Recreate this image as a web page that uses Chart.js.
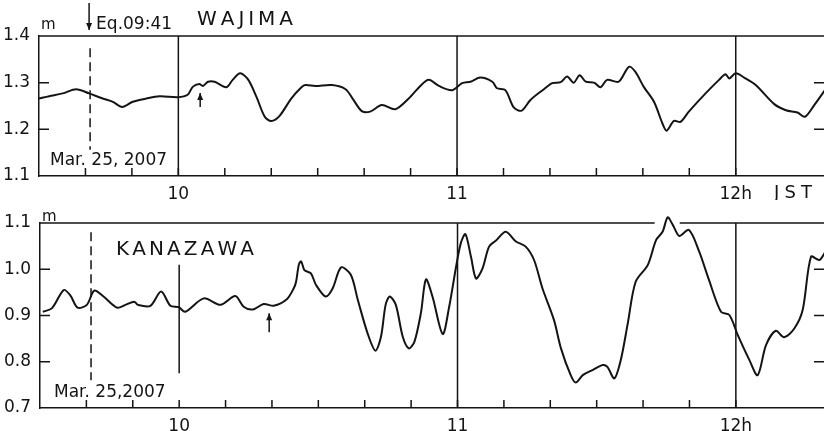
<!DOCTYPE html>
<html lang="en">
<head>
  <meta charset="UTF-8">
  <title>Wajima / Kanazawa tide records</title>
  <script src="https://cdn.jsdelivr.net/npm/chart.js"></script>
  <style>
    body {
      margin: 0;
      background: #fff;
    }
    canvas {
      display: block;
    }
  </style>
</head>
<body>
  <canvas id="wajimaChart" width="824" height="200"></canvas>
  <canvas id="kanazawaChart" width="824" height="231"></canvas>

<script>
    // minutes after 09:30 JST, sea level in m
    const wajimaMin = [0, 2.2, 5.1, 8, 10.8, 13.7, 15.9, 17.9, 20.2, 23.1, 25.9, 29.9, 32, 33.1, 34.5, 35.3, 36.4, 37.8, 40.3, 41.7,
      43.3, 45, 46.8, 48.6, 50, 51.8, 54.3, 56.5, 57.3, 59.5, 63.1, 66, 67.7, 69.5, 71.3, 73.8, 76.7, 79.6, 82.1, 83.9,
      86.1, 88.9, 91.1, 92.9, 95, 97.6, 98.6, 100.4, 102.2, 103.9, 105.8, 108.7, 110.5, 112.3, 113.7, 115.1, 116.4, 117.7, 119.5, 120.9,
      122.3, 124.8, 127, 128.4, 130.2, 132.4, 134.2, 135.1, 136.7, 138.1, 139.9, 143.5, 146.4, 147.8, 148.6, 150, 151.8, 154.3, 158.3, 160.8,
      163.3, 164.9, 166.9, 169.2];
    const wajimaLevel = [1.266, 1.271, 1.277, 1.286, 1.277, 1.266, 1.259, 1.248, 1.259, 1.266, 1.271, 1.269, 1.274, 1.291, 1.297, 1.293, 1.302, 1.302, 1.290, 1.306,
      1.320, 1.307, 1.270, 1.227, 1.218, 1.229, 1.266, 1.290, 1.295, 1.293, 1.295, 1.286, 1.263, 1.239, 1.238, 1.252, 1.243, 1.266, 1.293, 1.306,
      1.293, 1.284, 1.299, 1.302, 1.311, 1.302, 1.288, 1.284, 1.247, 1.240, 1.263, 1.286, 1.299, 1.301, 1.313, 1.300, 1.316, 1.302, 1.300, 1.290,
      1.306, 1.302, 1.334, 1.323, 1.291, 1.259, 1.213, 1.197, 1.218, 1.216, 1.238, 1.277, 1.306, 1.318, 1.309, 1.320, 1.311, 1.295, 1.254, 1.241,
      1.236, 1.227, 1.252, 1.284];

    const kanazawaMin = [0.6, 2.6, 5.1, 6.5, 8.1, 10.1, 11.7, 13.7, 16.6, 18.4, 20.3, 21.1, 23.8, 26.1, 28.1, 29.9, 31.3, 35.3, 38.9, 42.1,
      43.9, 45.9, 48.2, 50.4, 53.2, 54.7, 55.2, 55.8, 56.3, 57, 58.4, 59.5, 61.6, 63.1, 64.9, 67, 68.5, 70.6, 72.3, 73.5,
      74.5, 75.4, 76.7, 78.2, 79.5, 80.7, 82.1, 83.2, 84.6, 86.8, 88.2, 89.7, 90.7, 91.7, 92.9, 94, 95.4, 96.8, 98.3, 100.4,
      102.6, 104.7, 106.5, 108.3, 110.8, 112.3, 114.4, 115.5, 117, 119.1, 121.3, 122.3, 123.8, 125.2, 126.7, 128.4, 131, 132.8, 134.2, 135.3,
      136.4, 137.8, 139.9, 142.1, 144.2, 146.8, 148.6, 150.4, 152.9, 154.7, 156.5, 158.6, 160.4, 162.6, 164.4, 166.2, 168, 169.2];
    const kanazawaLevel = [0.908, 0.916, 0.955, 0.944, 0.917, 0.923, 0.954, 0.941, 0.917, 0.923, 0.930, 0.923, 0.921, 0.952, 0.921, 0.918, 0.908, 0.937, 0.923, 0.942,
      0.919, 0.913, 0.925, 0.921, 0.935, 0.959, 0.973, 1.010, 1.017, 0.998, 0.991, 0.966, 0.941, 0.959, 1.004, 0.988, 0.934, 0.862, 0.824, 0.854,
      0.923, 0.941, 0.923, 0.854, 0.829, 0.843, 0.905, 0.978, 0.941, 0.860, 0.919, 1.006, 1.056, 1.076, 1.027, 0.980, 1.002, 1.049, 1.062, 1.081,
      1.060, 1.049, 1.020, 0.959, 0.890, 0.829, 0.771, 0.755, 0.771, 0.782, 0.793, 0.789, 0.764, 0.804, 0.883, 0.973, 1.009, 1.063, 1.081, 1.112,
      1.096, 1.072, 1.085, 1.038, 0.977, 0.908, 0.901, 0.858, 0.804, 0.771, 0.836, 0.867, 0.853, 0.872, 0.912, 1.027, 1.020, 1.036];

    const hourLabels = { 30: '10', 90: '11', 150: '12h' };
    const eqMin = 11; // 09:41

    const ink = '#141414';
    const font = '"DejaVu Sans", sans-serif';

    function spaced(ctx, text, x, y, width) {
      const chars = text.split('');
      const total = chars.reduce((s, c) => s + ctx.measureText(c).width, 0);
      const gap = chars.length > 1 ? (width - total) / (chars.length - 1) : 0;
      chars.forEach(c => {
        ctx.fillText(c, x, y);
        x += ctx.measureText(c).width + gap;
      });
    }

    function arrow(ctx, x, y1, y2) {
      // shaft from y1 to the tip at y2
      const dir = y2 < y1 ? 1 : -1;
      ctx.beginPath();
      ctx.moveTo(x, y1);
      ctx.lineTo(x, y2);
      ctx.stroke();
      ctx.beginPath();
      ctx.moveTo(x, y2);
      ctx.lineTo(x - 3, y2 + 7 * dir);
      ctx.lineTo(x + 3, y2 + 7 * dir);
      ctx.closePath();
      ctx.fill();
    }

    // frame, inward ticks, hour lines, dashed quake line and lettering
    const frame = {
      id: 'frame',
      afterDatasetsDraw(chart, args, o) {
        const { ctx, chartArea: a, scales: { x, y } } = chart;
        ctx.save();
        ctx.strokeStyle = ink;
        ctx.fillStyle = ink;
        ctx.lineWidth = 1.5;

        // top border (with a gap where the record runs over it)
        ctx.beginPath();
        if (o.gap) {
          ctx.moveTo(a.left, a.top);
          ctx.lineTo(x.getPixelForValue(o.gap[0]), a.top);
          ctx.moveTo(x.getPixelForValue(o.gap[1]), a.top);
          ctx.lineTo(a.right, a.top);
        } else {
          ctx.moveTo(a.left, a.top);
          ctx.lineTo(a.right, a.top);
        }
        ctx.stroke();

        // inward ticks
        ctx.beginPath();
        x.ticks.forEach(t => {
          if (t.value > x.min && t.value < x.max && t.value % 10 === 0) {
            const px = x.getPixelForValue(t.value);
            ctx.moveTo(px, a.bottom);
            ctx.lineTo(px, a.bottom - 8);
          }
        });
        y.ticks.forEach(t => {
          if (t.value > y.min + 1e-6 && t.value < y.max - 1e-6) {
            const py = y.getPixelForValue(t.value);
            ctx.moveTo(a.left, py);
            ctx.lineTo(a.left + 10, py);
            ctx.moveTo(a.right, py);
            ctx.lineTo(a.right - 10, py);
          }
        });
        ctx.stroke();

        // hour lines
        ctx.beginPath();
        o.hours.forEach(h => {
          const px = x.getPixelForValue(h[0]);
          ctx.moveTo(px, h[1] == null ? a.top : y.getPixelForValue(h[1]));
          ctx.lineTo(px, h[2] == null ? a.bottom : y.getPixelForValue(h[2]));
        });
        ctx.stroke();

        // earthquake time
        const ex = x.getPixelForValue(eqMin);
        ctx.setLineDash([9, 5]);
        ctx.beginPath();
        ctx.moveTo(ex, y.getPixelForValue(o.eq[0]));
        ctx.lineTo(ex, y.getPixelForValue(o.eq[1]));
        ctx.stroke();
        ctx.setLineDash([]);

        // arrival arrow
        arrow(ctx, x.getPixelForValue(o.arrow[0]), y.getPixelForValue(o.arrow[1]), y.getPixelForValue(o.arrow[2]));

        // lettering
        ctx.textBaseline = 'middle';
        ctx.textAlign = 'left';
        ctx.font = '15px ' + font;
        ctx.fillText('m', a.left + 2, o.mY);
        ctx.font = '20px ' + font;
        spaced(ctx, o.title, o.titlePos[0], o.titlePos[1], o.titlePos[2]);
        ctx.font = '17px ' + font;
        ctx.fillText(o.date, o.datePos[0], o.datePos[1]);
        if (o.eqLabel) {
          arrow(ctx, ex - 1, 3, 30);
          ctx.fillText('Eq.09:41', ex + 6, 25);
          ctx.font = '18px ' + font;
          spaced(ctx, 'JST', 774, 193, 38);
        }
        ctx.restore();
      }
    };

    function makeChart(id, xs, ys, yMin, yMax, padTop, xHeight, yWidth, opts) {
      return new Chart(document.getElementById(id).getContext('2d'), {
        type: 'line',
        data: {
          datasets: [{
            data: xs.map((v, i) => ({ x: v, y: ys[i] })),
            borderColor: ink,
            borderWidth: 2,
            pointRadius: 0,
            tension: 0.3,
            fill: false,
            clip: false
          }]
        },
        options: {
          responsive: false,
          animation: false,
          layout: { padding: { top: padTop, left: 0, right: 0, bottom: 0 } },
          plugins: { legend: { display: false }, tooltip: { enabled: false }, frame: opts },
          scales: {
            x: {
              type: 'linear',
              min: 0,
              max: 169,
              grid: { display: false, drawTicks: false },
              border: { display: true, color: ink, width: 1.5 },
              afterFit: s => {
                s.height = xHeight;
                s.paddingLeft = 0;
                s.paddingRight = 0;
              },
              ticks: {
                stepSize: 10,
                autoSkip: false,
                maxRotation: 0,
                padding: 8,
                color: ink,
                font: { family: font, size: 17 },
                callback: v => hourLabels[v] || ''
              }
            },
            y: {
              min: yMin,
              max: yMax,
              grid: { display: false, drawTicks: false },
              border: { display: true, color: ink, width: 1.5 },
              afterFit: s => { s.width = yWidth; },
              ticks: {
                stepSize: 0.1,
                padding: 9,
                color: ink,
                font: { family: font, size: 17 },
                callback: v => v.toFixed(1)
              }
            }
          }
        },
        plugins: [frame]
      });
    }

    makeChart('wajimaChart', wajimaMin, wajimaLevel, 1.1, 1.4, 36, 24, 39, {
      hours: [[30], [90], [150]],
      eq: [1.374, 1.156],
      arrow: [34.7, 1.248, 1.278],
      mY: 25,
      title: 'WAJIMA',
      titlePos: [197, 20, 96],
      date: 'Mar. 25, 2007',
      datePos: [50, 161],
      eqLabel: true
    });

    makeChart('kanazawaChart', kanazawaMin, kanazawaLevel, 0.7, 1.1, 23, 23, 40, {
      hours: [[30, 1.01, 0.775], [90], [150]],
      gap: [132.5, 137.9],
      eq: [1.080, 0.760],
      arrow: [49.4, 0.864, 0.905],
      mY: 17,
      title: 'KANAZAWA',
      titlePos: [116, 50, 138],
      date: 'Mar. 25,2007',
      datePos: [54, 193],
      eqLabel: false
    });
</script>
</body>
</html>
